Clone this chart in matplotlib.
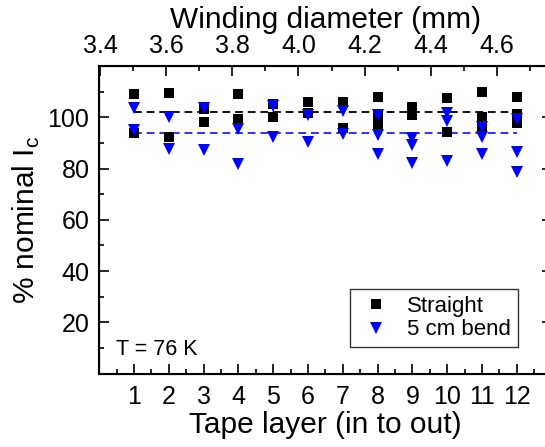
import numpy as np
import matplotlib
matplotlib.use('Agg')
import matplotlib.pyplot as plt

plt.rcParams['font.family'] = ['Liberation Sans', 'DejaVu Sans']

layers = list(range(1, 13))
# % nominal Ic read per tape layer (several samples per layer)
straight = [[109.1, 94.0], [109.6, 92.3], [103.3, 98.4], [109.2, 99.2],
            [105.1, 100.1], [106.1, 101.8], [106.2, 95.8], [107.9, 101.0, 97.1],
            [104.2, 101.0], [107.7, 94.2], [110.0, 100.2, 96.0], [108.1, 101.2, 97.7]]
bend = [[103.5, 95.0], [100.3, 87.7], [103.6, 87.2], [95.5, 81.7],
        [104.5, 92.4], [101.1, 90.4], [102.6, 93.6], [100.8, 93.0, 85.9],
        [91.9, 89.3, 82.3], [101.6, 98.5, 82.8], [96.4, 92.3, 85.7], [99.5, 86.4, 78.8]]
straight_avg = 102.0
bend_avg = 93.8

x_ticks = layers
y_ticks = [20, 40, 60, 80, 100]
diam_ticks = [3.4, 3.6, 3.8, 4.0, 4.2, 4.4, 4.6]
diam_start = 3.3976
diam_per_layer = 0.1052

def flatten(groups):
    xs, ys = [], []
    for layer, vals in zip(layers, groups):
        for v in vals:
            xs.append(layer)
            ys.append(v)
    return xs, ys

sx, sy = flatten(straight)
bx, by = flatten(bend)

fig = plt.figure(figsize=(5.45, 4.47), dpi=100)
ax = fig.add_axes([0.182, 0.1644, 0.830, 0.6875])

ax.plot([layers[0], layers[-1]], [straight_avg, straight_avg], color='#111111',
        lw=1.4, dashes=(4, 2.5), zorder=2)
ax.plot([layers[0], layers[-1]], [bend_avg, bend_avg], color='#3030ff',
        lw=1.4, dashes=(4, 2.5), zorder=2)
ax.plot(sx, sy, 's', color='black', ms=7.2, mew=0, label='Straight', zorder=3)
ax.plot(bx, by, 'v', color='#0000ff', ms=8.4, mew=0, label='5 cm bend', zorder=4)

ax.set_xlim(0, 13)
ax.set_ylim(0, 120)
ax.set_xticks(x_ticks)
ax.set_xticks(np.arange(0.5, 13, 1), minor=True)
ax.set_yticks(y_ticks)
ax.set_yticks([10, 30, 50, 70, 90, 110], minor=True)
ax.tick_params(which='both', direction='in', width=1.2, labelsize=18,
               right=True, top=False)
ax.tick_params(which='major', length=7)
ax.tick_params(which='minor', length=3.5)
ax.tick_params(axis='y', pad=7)
ax.tick_params(axis='x', pad=8)
for s in ax.spines.values():
    s.set_linewidth(1.5)

ax.set_xlabel('Tape layer (in to out)', fontsize=21.5, labelpad=2)
ax.set_ylabel('% nominal I$_\\mathregular{c}$', fontsize=21.5, labelpad=4)

ax.text(0.48, 9.4, 'T = 76 K', fontsize=15.5, ha='left', va='center')

leg = ax.legend(loc='lower right', bbox_to_anchor=(0.9257, 0.0862), borderaxespad=0,
                fontsize=16, frameon=True, fancybox=False, edgecolor='black',
                handlelength=1.8, handletextpad=0.5, labelspacing=0.1, borderpad=0.3)
leg.get_frame().set_linewidth(1.0)

ax2 = ax.twiny()
ax2.set_xlim(diam_start, diam_start + 13 * diam_per_layer)
ax2.set_xticks(diam_ticks)
ax2.set_xticklabels(['%.1f' % d for d in diam_ticks])
ax2.set_xticks(np.arange(3.5, 4.8, 0.2), minor=True)
ax2.tick_params(which='both', direction='in', width=1.2, labelsize=18, pad=6)
ax2.tick_params(which='major', length=7)
ax2.tick_params(which='minor', length=3.5)
ax2.set_xlabel('Winding diameter (mm)', fontsize=21.5, labelpad=4)

fig.savefig('out.png', dpi=100)
